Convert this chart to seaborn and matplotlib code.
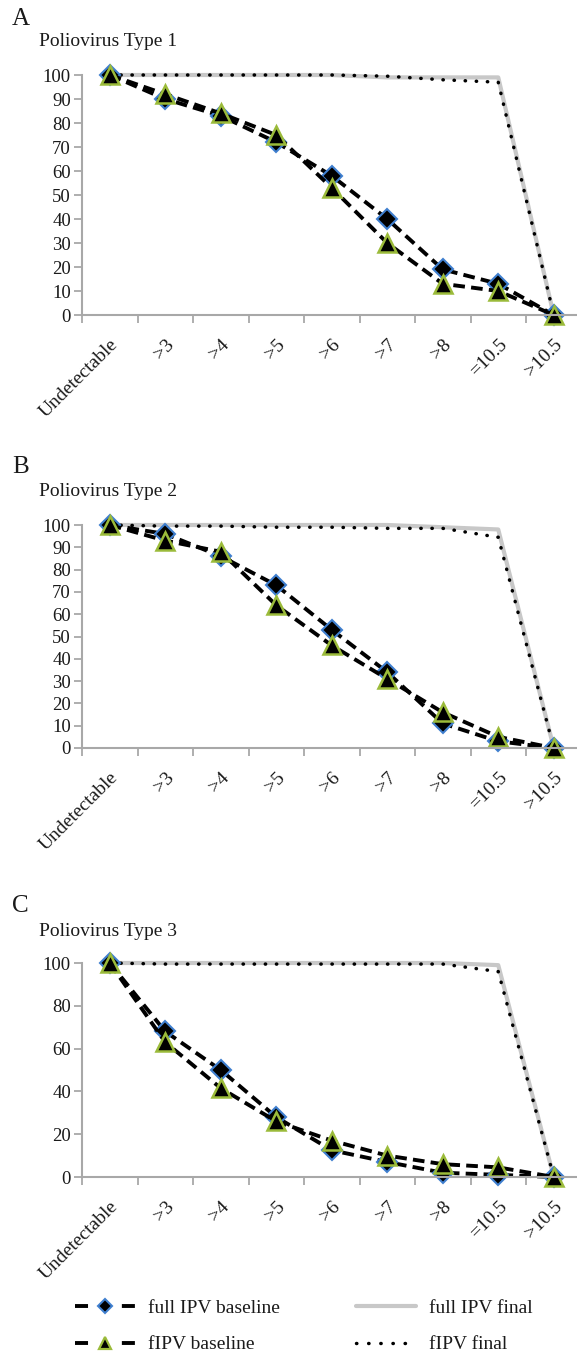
import numpy as np
import pandas as pd
import matplotlib
matplotlib.use("Agg")
import matplotlib.pyplot as plt
from matplotlib.lines import Line2D
import seaborn as sns

categories = ["Undetectable", ">3", ">4", ">5", ">6", ">7", ">8", "=10.5", ">10.5"]

t1_full_base = [100, 90, 83, 72, 58, 40, 19, 13, 0]
t1_f_base = [100, 92, 84, 75, 53, 30, 13, 10, 0]
t1_full_final = [100, 100, 100, 100, 100, 99, 99, 99, 0]
t1_f_final = [100, 100, 100, 100, 100, 99.5, 98, 97, 0]

t2_full_base = [100, 96, 86, 73, 53, 34, 11, 3, 0]
t2_f_base = [100, 93, 88, 64, 46, 31, 16, 5, 0]
t2_full_final = [100, 100, 100, 100, 100, 100, 99, 98, 0]
t2_f_final = [100, 99.5, 99.5, 99, 99, 98.5, 98.5, 94.5, 0]

t3_full_base = [100, 68, 50, 28, 12.5, 7, 2, 1, 0]
t3_f_base = [100, 63, 41.5, 26, 17, 10, 6, 4.5, 0]
t3_full_final = [100, 100, 100, 100, 100, 100, 100, 99, 0]
t3_f_final = [100, 99.5, 99.5, 99.5, 99.5, 99.5, 99.5, 96, 0]

panel_letters = ["A", "B", "C"]
panel_titles = ["Poliovirus Type 1", "Poliovirus Type 2", "Poliovirus Type 3"]
series_labels = ["full IPV baseline", "fIPV baseline", "full IPV final", "fIPV final"]
yticks_list = [np.arange(0, 101, 10), np.arange(0, 101, 10), np.arange(0, 101, 20)]

data = [
    (t1_full_base, t1_f_base, t1_full_final, t1_f_final),
    (t2_full_base, t2_f_base, t2_full_final, t2_f_final),
    (t3_full_base, t3_f_base, t3_full_final, t3_f_final),
]

sns.set_style("white")
plt.rcParams["font.family"] = ["Liberation Serif", "DejaVu Serif"]
plt.rcParams["font.size"] = 14

W, H = 577, 1355
fig = plt.figure(figsize=(W / 100, H / 100), dpi=100)

geo = [(75, 315), (525, 748), (963, 1177)]
letter_y = [19, 467, 906]
title_y = [42, 492, 931]
left_px = 82
cat_px = 55.5

SPINE = "#a8a8a8"
BLUE = "#3f7fcf"
GREEN = "#9bbb3a"
GRAY = "#c8c8c8"
TXT = "#1a1a1a"
DASH = (3.0, 1.6)
DOT = (0.1, 3.1)

for i in range(3):
    ytop, ybot = geo[i]
    ax = fig.add_axes([left_px / W, 1 - ybot / H, 9 * cat_px / W, (ybot - ytop) / H])
    full_base, f_base, full_final, f_final = data[i]
    df = pd.DataFrame({"cat": categories, "fb": full_base, "ffb": f_base,
                       "ff": full_final, "fff": f_final})

    sns.lineplot(data=df, x="cat", y="ff", ax=ax, sort=False, color=GRAY,
                 linewidth=3.0, legend=False)
    sns.lineplot(data=df, x="cat", y="fff", ax=ax, sort=False, color="black",
                 linewidth=2.5, legend=False)
    ax.lines[-1].set_linestyle((0, DOT))
    ax.lines[-1].set_dash_capstyle("round")
    sns.lineplot(data=df, x="cat", y="fb", ax=ax, sort=False, color="black",
                 linewidth=2.8, marker="D", markersize=10, markerfacecolor="black",
                 markeredgecolor=BLUE, markeredgewidth=1.5, legend=False)
    ax.lines[-1].set_linestyle((0, DASH))
    sns.lineplot(data=df, x="cat", y="ffb", ax=ax, sort=False, color="black",
                 linewidth=2.8, marker="^", markersize=12.5, markerfacecolor="black",
                 markeredgecolor=GREEN, markeredgewidth=1.8, legend=False)
    ax.lines[-1].set_linestyle((0, DASH))
    for ln in ax.lines:
        ln.set_clip_on(False)

    ax.set_xlim(-0.5, 8.5)
    ax.set_ylim(0, 100)
    ax.set_yticks(yticks_list[i])
    ax.set_xticks(np.arange(-0.5, 9.0, 1.0))
    ax.set_xticklabels([])
    ax.set_xticks(np.arange(0, 9), minor=True)
    ax.set_xticklabels(categories, minor=True, rotation=45, ha="right",
                       rotation_mode="anchor", fontsize=14, color=TXT)
    ax.tick_params(axis="x", which="minor", length=0, pad=15)
    ax.tick_params(axis="x", which="major", length=6, width=1.3, color=SPINE,
                   direction="out", bottom=True)
    ax.tick_params(axis="y", length=6, width=1.3, color=SPINE, direction="out",
                   left=True, labelsize=13.5, labelcolor=TXT, pad=2)
    ax.set_xlabel("")
    ax.set_ylabel("")
    for s in ["top", "right"]:
        ax.spines[s].set_visible(False)
    for s in ["left", "bottom"]:
        ax.spines[s].set_color(SPINE)
        ax.spines[s].set_linewidth(1.5)
    ax.patch.set_alpha(0)

    fig.text(12 / W, 1 - letter_y[i] / H, panel_letters[i], fontsize=18,
             va="center", ha="left", color=TXT)
    fig.text(39 / W, 1 - title_y[i] / H, panel_titles[i], fontsize=14,
             va="center", ha="left", color=TXT)

LEG_DASH = (3.35, 8.7)
leg_handles = [
    Line2D([], [], color="black", linewidth=2.8, linestyle=(0, LEG_DASH),
           marker="D", markersize=7, markerfacecolor="black",
           markeredgecolor=BLUE, markeredgewidth=1.5),
    Line2D([], [], color="black", linewidth=2.8, linestyle=(0, LEG_DASH),
           marker="^", markersize=8.5, markerfacecolor="black",
           markeredgecolor=GREEN, markeredgewidth=1.6),
    Line2D([], [], color=GRAY, linewidth=3.0),
    Line2D([], [], color="black", linewidth=2.5, linestyle=(0, (0.1, 3.4)),
           dash_capstyle="round"),
]
fig.legend(leg_handles, series_labels, ncol=2, loc="center left",
           bbox_to_anchor=(75 / W, 1 - 1326.5 / H), frameon=False,
           fontsize=14, handlelength=3.1, labelspacing=0.95, borderpad=0,
           borderaxespad=0, columnspacing=3.9, handletextpad=0.67, numpoints=1,
           labelcolor=TXT)

fig.savefig("out.png", dpi=100, facecolor="white")
